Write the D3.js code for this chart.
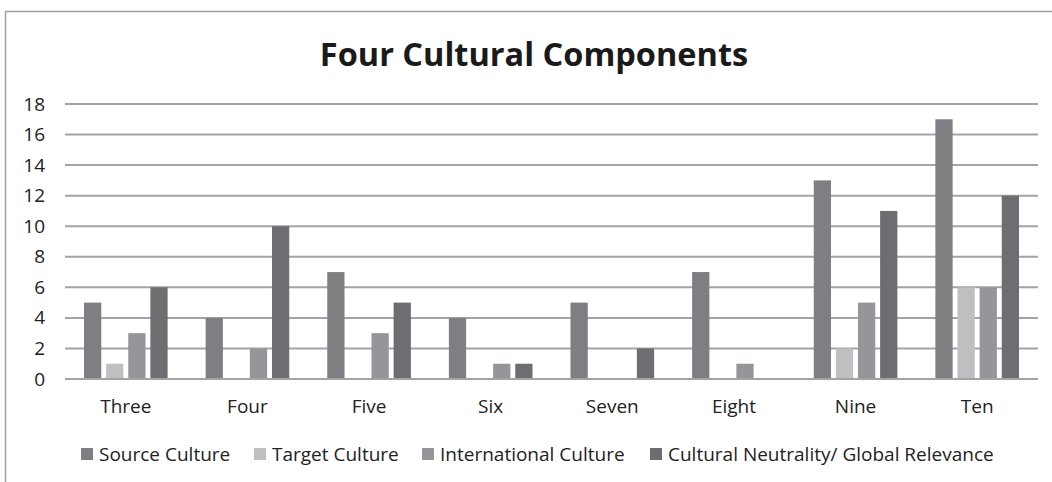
<!DOCTYPE html>
<html><head><meta charset="utf-8">
<script src="https://cdn.jsdelivr.net/npm/d3@7"></script>
<style>body{margin:0;background:#fff}svg{display:block}</style>
</head><body>
<svg id="c" width="1052" height="482"></svg>
<script>
const categories = ["Three","Four","Five","Six","Seven","Eight","Nine","Ten"];
const seriesNames = ["Source Culture","Target Culture","International Culture","Cultural Neutrality/ Global Relevance"];
const sourceCulture = [5,4,7,4,5,7,13,17];
const targetCulture = [1,0,0,0,0,0,2,6];
const internationalCulture = [3,2,3,1,0,1,5,6];
const neutrality = [6,10,5,1,2,0,11,12];
const yTicks = [0,2,4,6,8,10,12,14,16,18];
const colors = ["#7e7f82","#bebfc1","#959699","#6d6e71"];
const series = [sourceCulture,targetCulture,internationalCulture,neutrality];

const svg = d3.select("#c");
const font = "'Open Sans', sans-serif";
// frame
svg.append("path").attr("d","M5.5,482 V11.5 H1052").attr("fill","none").attr("stroke","#a0a0a0").attr("stroke-width",1.5);

svg.append("text").attr("x",534).attr("y",66).attr("text-anchor","middle")
  .attr("font-family",font).attr("font-weight","bold").attr("font-size",32.5).attr("fill","#1a1a1a")
  .text("Four Cultural Components");

const x0 = d3.scaleBand().domain(categories).range([65,1038]).paddingInner(0).paddingOuter(0);
const x1 = d3.scaleBand().domain(d3.range(4)).range([19, x0.bandwidth()-19]).paddingInner(0.22).paddingOuter(0);
const y = d3.scaleLinear().domain([0,18]).range([379,104]);

// gridlines
svg.append("g").selectAll("line").data(yTicks).join("line")
  .attr("x1",65).attr("x2",1038).attr("y1",d=>y(d)).attr("y2",d=>y(d))
  .attr("stroke","#a3a3a3").attr("stroke-width",2);

// y axis labels
const yAxis = d3.axisLeft(y).tickValues(yTicks).tickSize(0).tickPadding(0);
const yg = svg.append("g").attr("transform","translate(45,0)").call(yAxis);
yg.select(".domain").remove();
yg.selectAll("text").attr("font-family",font).attr("font-size",19).attr("fill","#222");

// bars
const groups = svg.append("g").selectAll("g").data(categories).join("g")
  .attr("transform",d=>`translate(${x0(d)},0)`);
groups.selectAll("rect").data((d,i)=>series.map((s,k)=>({k,v:s[i]}))).join("rect")
  .attr("x",d=>x1(d.k)).attr("width",x1.bandwidth())
  .attr("y",d=>y(d.v)).attr("height",d=>y(0)-y(d.v))
  .attr("fill",d=>colors[d.k]);

// x axis
const xAxis = d3.axisBottom(x0).tickSize(0).tickPadding(21);
const xg = svg.append("g").attr("transform",`translate(0,${y(0)})`).call(xAxis);
xg.select(".domain").remove();
xg.selectAll("text").attr("font-family",font).attr("font-size",19).attr("fill","#222");
svg.append("line").attr("x1",65).attr("x2",1038).attr("y1",y(0)).attr("y2",y(0)).attr("stroke","#a3a3a3").attr("stroke-width",2);

// legend
const legendX = [81,254,422,650];
const lg = svg.append("g").selectAll("g").data(seriesNames).join("g")
  .attr("transform",(d,i)=>`translate(${legendX[i]},454)`);
lg.append("rect").attr("x",0).attr("y",-6).attr("width",12).attr("height",12).attr("fill",(d,i)=>colors[i]);
lg.append("text").attr("x",18).attr("y",7).attr("font-family",font).attr("font-size",19).attr("fill","#222").text(d=>d);
</script>
</body></html>
